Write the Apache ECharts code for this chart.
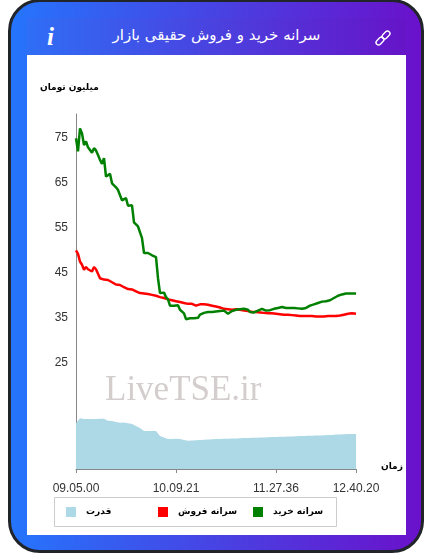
<!DOCTYPE html>
<html>
<head>
<meta charset="utf-8">
<style>
    html, body { margin: 0; padding: 0; background: #fff; width: 433px; height: 559px; overflow: hidden; }
    .card {
        position: absolute; left: 8px; top: -1px; width: 410px; height: 548px;
        border: 3px solid #212529; border-radius: 32px;
        background: linear-gradient(to right, #2575fc, #6a11cb);
    }
    .head {
        position: absolute; left: 27px; top: 18px; width: 379px; height: 37px;
        background: linear-gradient(to right, #2f6ef6, #6614c8);
    }
    .title {
        position: absolute; left: 27px; top: 18px; width: 379px; height: 37px; line-height: 34px;
        text-align: center; color: #fff; font: 15px/34px "DejaVu Sans", sans-serif; direction: rtl;
    }
    .info {
        position: absolute; left: 47px; top: 22px; color: #fff;
        font: italic bold 25px/30px "Liberation Serif", serif;
    }
    .link { position: absolute; left: 375px; top: 30px; }
    .panel { position: absolute; left: 27px; top: 55px; width: 379px; height: 480px; background: #fff; }
    #chart { position: absolute; left: 0; top: 0; width: 433px; height: 559px; }
</style>
</head>
<body>
<div class="card"></div>
<div class="head"></div>
<div class="title">سرانه خرید و فروش حقیقی بازار</div>
<div class="info">i</div>
<svg class="link" width="16" height="16" viewBox="0 0 16 16" fill="none" stroke="#fff" stroke-width="1.4">
    <rect x="-4.5" y="-2.5" width="9" height="5" rx="2.5" transform="translate(5 11) rotate(-45)"/>
    <rect x="-4.5" y="-2.5" width="9" height="5" rx="2.5" transform="translate(11 5) rotate(-45)"/>
</svg>
<div class="panel"></div>
<div id="chart"></div>
<script src="https://cdn.jsdelivr.net/npm/echarts@6/dist/echarts.min.js"></script>
<script>
var buyName = 'سرانه خرید';
var sellName = 'سرانه فروش';
var powerName = 'قدرت';
var yTicks = [25, 35, 45, 55, 65, 75];
var xTickIndex = [0, 50, 100, 140];
var xTickLabels = ['09.05.00', '10.09.21', '11.27.36', '12.40.20'];

var buy = [
    74.9, 72.0, 77.1, 76.0, 73.4, 74.2, 72.9, 72.7, 71.7, 72.7, 72.2, 71.2, 70.1, 69.2, 70.5,
    66.4, 66.6, 67.0, 64.9, 64.6, 64.0, 63.4, 63.1, 61.1, 61.4, 61.6, 59.9, 59.9, 60.0,
    56.2, 56.0, 55.3, 54.9, 52.7, 49.4, 49.4, 49.4, 49.3, 48.9, 48.8, 48.5, 43.8, 40.5,
    40.6, 40.6, 39.6, 39.1, 37.7, 37.5, 37.7, 37.9, 37.8, 36.8, 36.4, 36.0, 34.7, 35.0, 34.9,
    34.9, 34.9, 34.9, 35.0, 35.7, 36.0, 36.1, 36.2, 36.3, 36.3, 36.3, 36.4, 36.4, 36.5, 36.5,
    36.6, 36.6, 36.6, 35.9, 36.0, 36.5, 36.8, 36.8, 36.9, 36.9, 36.9, 37.0, 37.2, 36.8, 36.3,
    36.2, 36.2, 36.4, 36.6, 36.8, 37.0, 36.8, 36.6, 36.6, 36.7, 36.8, 37.0, 37.2, 37.2, 37.3,
    37.4, 37.5, 37.2, 37.1, 37.2, 37.2, 37.2, 37.3, 37.1, 37.0, 37.0, 37.1, 37.2, 37.4, 37.7,
    37.8, 38.0, 38.2, 38.3, 38.5, 38.6, 38.6, 38.7, 38.8, 38.9, 39.1, 39.4, 39.7, 39.9, 40.0,
    40.2, 40.3, 40.4, 40.4, 40.4, 40.4, 40.4, 40.4
];
var sell = [
    50.0, 49.2, 47.5, 46.8, 45.7, 46.3, 45.8, 45.7, 45.3, 46.3, 45.8, 44.8, 43.8, 43.4, 43.5,
    43.6, 43.4, 43.1, 42.9, 42.6, 42.4, 42.5, 42.3, 42.1, 41.8, 41.6, 41.4, 41.2, 41.3, 41.1,
    40.9, 40.6, 40.5, 40.5, 40.4, 40.3, 40.3, 40.3, 40.1, 40.0, 39.9, 39.7, 39.6, 39.4, 39.4,
    39.2, 39.1, 39.0, 38.9, 38.7, 38.7, 38.6, 38.5, 38.4, 38.3, 38.2, 38.1, 38.0,
    38.1, 38.0, 37.7, 37.7, 38.0, 38.0, 38.0, 38.0, 37.9, 37.8, 37.7, 37.6, 37.5, 37.4, 37.3,
    37.2, 37.0, 37.0, 36.9, 36.8, 36.8, 36.9, 36.9, 36.8, 36.8, 36.7, 36.6, 36.6, 36.5, 36.4,
    36.3, 36.3, 36.3, 36.3, 36.2, 36.1, 36.1, 36.1, 36.0, 36.0, 36.0, 36.0, 35.9, 35.9, 35.8,
    35.8, 35.7, 35.7, 35.7, 35.6, 35.6, 35.5, 35.5, 35.5, 35.4, 35.4, 35.4, 35.4, 35.4, 35.4,
    35.4, 35.4, 35.3, 35.3, 35.3, 35.3, 35.3, 35.3, 35.4, 35.4, 35.4, 35.4, 35.4, 35.4, 35.5,
    35.6, 35.7, 35.8, 35.9, 36.0, 36.0, 36.0, 35.9
];
var power = [
    45.7, 46, 50.7, 50.5, 50, 50, 50, 50, 50, 50, 50, 50.3, 50.3, 50.3, 50.3,
    48.3, 48.3, 48, 48, 47.5, 47, 47, 46.3, 46.5, 46.5, 46, 45.7, 45.7, 45, 43,
    43, 42.5, 41, 39, 38, 38, 38, 38, 38, 38, 38, 36, 33, 32.3, 31.5,
    31, 30, 30, 30, 30.3, 30.3, 30, 30, 29.5, 29, 28.3, 28.3, 28.5, 28.5, 28.7,
    28.7, 29, 29, 29.2, 29.2, 29.5, 29.5, 29.7, 29.7, 30, 30, 30, 30, 30.1, 30.2,
    30.2, 30.3, 30.4, 30.5, 30.5, 30.6, 30.7, 30.8, 30.8, 30.9, 31, 31, 31.1, 31.2, 31.3,
    31.3, 31.4, 31.5, 31.5, 31.6, 31.7, 31.8, 31.8, 31.9, 32, 32, 32.1, 32.2, 32.2, 32.3,
    32.4, 32.5, 32.5, 32.6, 32.7, 32.8, 32.8, 32.9, 33, 33, 33.1, 33.2, 33.3, 33.3, 33.4,
    33.5, 33.5, 33.6, 33.7, 33.8, 33.8, 33.9, 34, 34, 34.2, 34.4, 34.5, 34.6, 34.8, 34.8,
    34.9, 35, 35, 35, 35, 35
];

var categories = buy.map(function(v, i) {
    var k = xTickIndex.indexOf(i);
    return k >= 0 ? xTickLabels[k] : String(i);
});
function isXTick(i) {
    return xTickIndex.indexOf(i) >= 0;
}
// one legend per item, the reference spaces them in fixed columns
function legendItem(name, left) {
    return {
        left: left,
        top: 507,
        padding: 0,
        itemWidth: 10,
        itemHeight: 10,
        icon: 'rect',
        textStyle: { fontFamily: '"DejaVu Sans", sans-serif', fontWeight: 'bold', fontSize: 9, color: '#000', padding: [2, 0, 0, 5] },
        data: [name]
    };
}

var chart = echarts.init(document.getElementById('chart'));
var boldText = 'bold 9px "DejaVu Sans", sans-serif';
var option = {
    animation: false,
    textStyle: { fontFamily: '"Liberation Sans", Arial, sans-serif' },
    grid: { left: 76, top: 114, width: 280, height: 355 },
    legend: [legendItem(powerName, 66), legendItem(sellName, 158), legendItem(buyName, 253)],
    xAxis: [{
        type: 'category',
        boundaryGap: false,
        data: categories,
        axisLine: { lineStyle: { color: '#888' } },
        axisTick: { length: 4, interval: function(i) { return isXTick(i); }, lineStyle: { color: '#888' } },
        axisLabel: {
            margin: 14,
            fontSize: 12,
            color: '#333',
            interval: function(i) { return isXTick(i); },
            showMinLabel: true,
            showMaxLabel: true
        }
    }],
    yAxis: [{
        type: 'value',
        min: 1.4,
        max: 80.3,
        splitLine: { show: false },
        axisLine: { show: true, lineStyle: { color: '#888' } },
        axisTick: { show: false },
        axisLabel: { customValues: yTicks, margin: 8, fontSize: 12, color: '#333' }
    }, {
        type: 'value',
        min: 0,
        max: 355,
        show: false,
        splitLine: { show: false }
    }],
    series: [{
        name: powerName,
        type: 'line',
        yAxisIndex: 1,
        data: power,
        showSymbol: false,
        lineStyle: { width: 0 },
        itemStyle: { color: '#add8e6' },
        areaStyle: { color: '#add8e6', opacity: 1 }
    }, {
        name: sellName,
        type: 'line',
        data: sell,
        showSymbol: false,
        lineStyle: { width: 2.5, color: '#ff0000' },
        itemStyle: { color: '#ff0000' }
    }, {
        name: buyName,
        type: 'line',
        data: buy,
        showSymbol: false,
        lineStyle: { width: 2.5, color: '#008000' },
        itemStyle: { color: '#008000' }
    }],
    graphic: [{
        type: 'rect',
        shape: { x: 54.5, y: 497.5, width: 282, height: 29 },
        style: { fill: 'none', stroke: '#ccc', lineWidth: 1 }
    }, {
        type: 'text',
        left: 40,
        top: 83,
        style: { text: 'میلیون تومان', font: boldText, fill: '#000' }
    }, {
        type: 'text',
        left: 381,
        top: 462,
        style: { text: 'زمان', font: boldText, fill: '#000' }
    }, {
        type: 'text',
        left: 105,
        top: 373,
        style: { text: 'LiveTSE.ir', font: '35px "Liberation Serif", serif', fill: '#d3cdcd' }
    }]
};
chart.setOption(option);
</script>
</body>
</html>
